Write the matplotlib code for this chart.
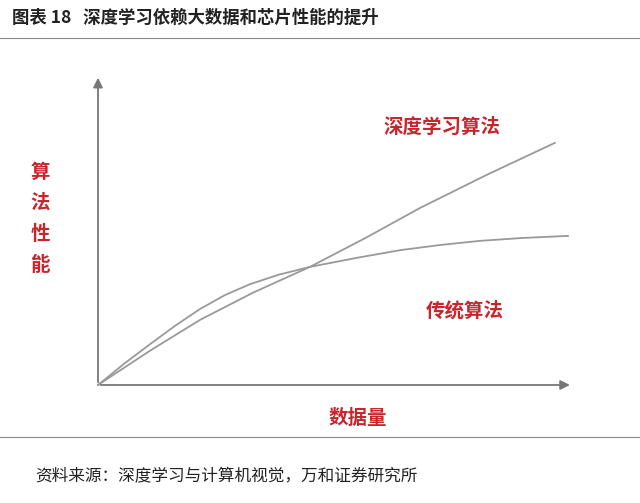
import numpy as np
import matplotlib.pyplot as plt

plt.rcParams['font.family'] = ['Noto Sans CJK SC', 'DejaVu Sans']

# curves (data units: x 0-10, y 0-10)
deep_x = [0, 1.1, 2.17, 3.3, 4.51, 5.7, 6.85, 8.3, 9.72]
deep_y = [0, 1.1, 2.1, 2.98, 3.81, 4.75, 5.71, 6.8, 7.81]
trad_x = [0, 0.55, 1.11, 1.65, 2.17, 2.7, 3.23, 3.85, 4.51, 5.5, 6.43, 7.3, 8.13, 9.0, 10.0]
trad_y = [0, 0.68, 1.32, 1.92, 2.45, 2.9, 3.25, 3.56, 3.81, 4.1, 4.35, 4.52, 4.65, 4.74, 4.81]

title = "图表 18   深度学习依赖大数据和芯片性能的提升"
source = "资料来源：深度学习与计算机视觉，万和证券研究所"
red = '#c8262c'

fig = plt.figure(figsize=(6.4, 5.03), dpi=100)
W, H = 640, 503

fig.text(12 / W, 1 - 18 / H, title, fontsize=12.5, fontweight='bold', color='#222222', va='center')
fig.add_artist(plt.Line2D([0, 1], [1 - 38 / H] * 2, color='#888888', lw=0.8))
fig.add_artist(plt.Line2D([0, 1], [1 - 437 / H] * 2, color='#888888', lw=0.8))
fig.text(35 / W, 1 - 477 / H, source, fontsize=12, color='#222222', va='center')

ax = fig.add_axes([98 / W, 1 - 385 / H, 470 / W, 310 / H])
ax.set_xlim(0, 10)
ax.set_ylim(0, 10)
ax.axis('off')
ax.plot(deep_x, deep_y, color='#999999', lw=1.3, clip_on=False)
ax.plot(trad_x, trad_y, color='#999999', lw=1.3, clip_on=False)
for end in [(10.1, 0), (0, 10)]:
    a = ax.annotate('', xy=end, xytext=(0, 0), annotation_clip=False,
                    arrowprops=dict(arrowstyle='-|>', color='#777777', lw=1.3, mutation_scale=14))
    a.set_clip_on(False)

fig.text(442 / W, 1 - 127 / H, "深度学习算法", fontsize=14, fontweight='bold', color=red, ha='center', va='center')
fig.text(465 / W, 1 - 311 / H, "传统算法", fontsize=14, fontweight='bold', color=red, ha='center', va='center')
fig.text(358 / W, 1 - 418 / H, "数据量", fontsize=14, fontweight='bold', color=red, ha='center', va='center')
for i, ch in enumerate("算法性能"):
    fig.text(40 / W, 1 - (172 + i * 31) / H, ch, fontsize=14, fontweight='bold', color=red, ha='center', va='center')

fig.savefig('out.png', dpi=100)
